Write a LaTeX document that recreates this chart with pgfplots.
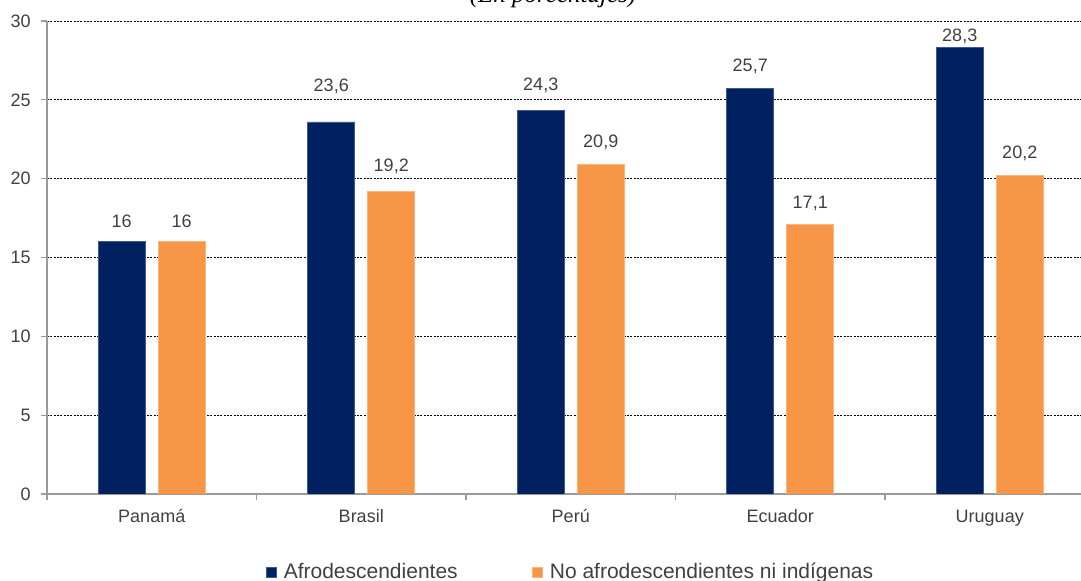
\documentclass[border=0pt]{standalone}
\usepackage{pgfplots}
\pgfplotsset{compat=1.18}
\usepackage{pgfplotstable}
\usepackage{fontspec}
\setmainfont{Liberation Sans}
\newfontfamily\titleserif{Liberation Serif}

\definecolor{afro}{HTML}{002060}
\definecolor{afroedge}{HTML}{3A5A95}
\definecolor{noafro}{HTML}{F79646}
\definecolor{noafroedge}{HTML}{FAB47C}
\definecolor{txt}{HTML}{404040}
\definecolor{axgray}{HTML}{9A9A9A}

% value, and vertical offset (px) of its label above the bar top
\pgfplotstableread{
x y off
0 16   20.3
1 23.6 35.5
2 24.3 25
3 25.7 22
4 28.3 11.7
}\afrodata
\pgfplotstableread{
x y off
0 16   20.3
1 19.2 25
2 20.9 21.7
3 17.1 21
4 20.2 22.3
}\noafrodata

\begin{document}
\begin{tikzpicture}[x=0.75pt,y=0.75pt]
\useasboundingbox (0,0) rectangle (1081,581);
\clip (0,0) rectangle (1081,581);
\node[font=\fontsize{18.75}{20}\selectfont\titleserif\itshape, anchor=base, text=black, inner sep=0pt]
  at (553,578.5) {(En porcentajes)};
\begin{axis}[
  at={(35.25pt,65.25pt)}, anchor=south west,
  scale only axis, width=785.625pt, height=354.75pt,
  xmin=-0.5, xmax=4.5, ymin=0, ymax=30,
  ybar=9.75pt, bar width=35.25pt,
  axis x line*=bottom, axis y line*=left,
  axis line style={draw=axgray, line width=1.1pt, -},
  tick style={draw=axgray, line width=0.9pt},
  tick align=outside, major tick length=4.5pt,
  ytick={0,5,...,30},
  xtick={-0.5,0.5,...,4.5}, xticklabels={},
  extra x ticks={0,1,2,3,4},
  extra x tick labels={Panamá,Brasil,Perú,Ecuador,Uruguay},
  extra x tick style={major tick length=0pt, grid=none},
  ymajorgrids,
  major grid style={draw=black, line width=0.6pt, dash pattern=on 1.5pt off 1pt},
  /pgf/number format/assume math mode=true,
  /pgf/number format/use comma,
  ticklabel style={font=\fontsize{13.5}{15}\selectfont, text=txt},
  yticklabel style={inner sep=0pt, xshift=-7.5pt},
  xticklabel style={inner sep=0pt, text height=10pt, text depth=3pt, yshift=-11pt},
  legend columns=2,
  legend style={at={(0.2091,-0.165)}, anchor=west, draw=none, fill=none,
    inner sep=0pt, font=\fontsize{15.75}{18}\selectfont, text=txt,
    /tikz/every odd column/.append style={column sep=3pt},
    /tikz/every even column/.append style={column sep=54pt}},
  legend image code/.code={\fill[#1] (0pt,-3.75pt) rectangle (7.5pt,3.75pt);},
  nodes near coords,
  visualization depends on={\thisrow{off} \as \labeloff},
  every node near coord/.append style={anchor=center, yshift=\labeloff*0.75pt,
    font=\fontsize{13.5}{15}\selectfont, text=txt, inner sep=0pt},
]
\addplot[fill=afro, draw=afroedge, line width=0.6pt]
  table[x=x, y=y] {\afrodata};
\addlegendentry{Afrodescendientes}
\addplot[fill=noafro, draw=noafroedge, line width=0.6pt]
  table[x=x, y=y] {\noafrodata};
\addlegendentry{No afrodescendientes ni indígenas}
\end{axis}
\end{tikzpicture}
\end{document}
